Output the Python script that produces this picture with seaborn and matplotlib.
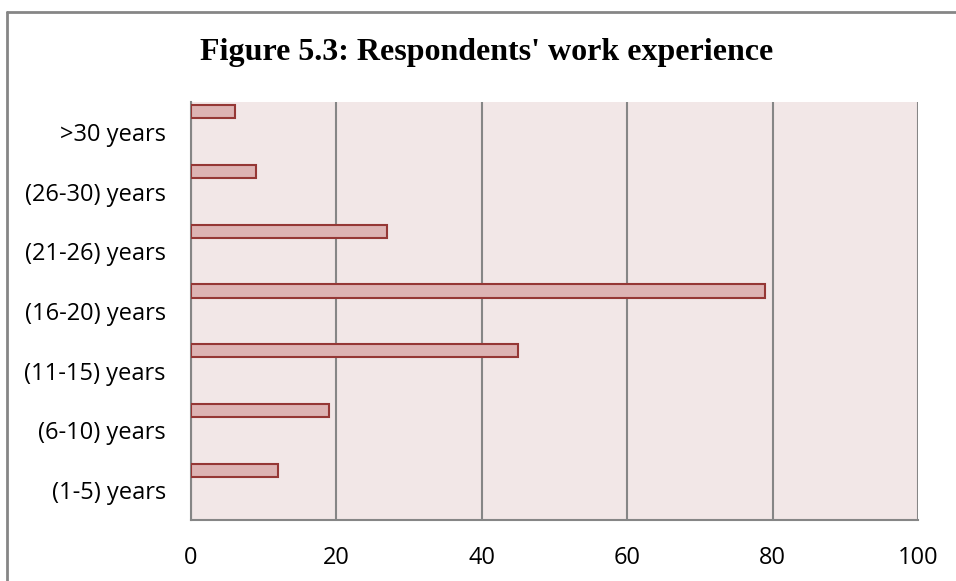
import pandas as pd
import numpy as np
import matplotlib.pyplot as plt
import seaborn as sns
from matplotlib.lines import Line2D

categories = [">30 years", "(26-30) years", "(21-26) years", "(16-20) years",
              "(11-15) years", "(6-10) years", "(1-5) years"]
respondents = [6, 9, 27, 79, 45, 19, 12]
x_ticks = [0, 20, 40, 60, 80, 100]


def main() -> None:
    df = pd.DataFrame({"experience": categories, "respondents": respondents})

    sns.set_style("white")
    plt.rcParams["font.family"] = ["Open Sans", "DejaVu Sans"]
    plt.rcParams["text.color"] = "black"
    plt.rcParams["xtick.color"] = "black"
    plt.rcParams["ytick.color"] = "black"

    fig = plt.figure(figsize=(9.56, 5.81), dpi=100)
    ax = fig.add_axes([191 / 956, 1 - 520 / 581, 727 / 956, 418 / 581])
    ax.set_facecolor("#F2E7E7")

    sns.barplot(data=df, x="respondents", y="experience", orient="h",
                width=0.22, color="#DDB3B3", saturation=1,
                edgecolor="#953735", linewidth=1.5, ax=ax, zorder=3)
    # Excel placed the single series at the top of each category band
    for patch in ax.patches:
        patch.set_y(patch.get_y() - 0.335)

    ax.set_xlim(0, 100)
    ax.set_ylim(6.5, -0.5)
    ax.set_xticks(x_ticks)
    ax.xaxis.grid(True, color="#868686", linewidth=1.5, zorder=1)
    ax.set_axisbelow(True)
    ax.tick_params(axis="x", length=0, pad=19, labelsize=17, labelcolor="black")
    ax.tick_params(axis="y", length=0, pad=18, labelsize=17, labelcolor="black")
    ax.set_xlabel("")
    ax.set_ylabel("")
    for side in ["top", "right"]:
        ax.spines[side].set_visible(False)
    for side in ["left", "bottom"]:
        ax.spines[side].set_color("#868686")
        ax.spines[side].set_linewidth(1.5)

    fig.text(487 / 956, 1 - 60 / 581, "Figure 5.3: Respondents' work experience",
             ha="center", va="baseline", fontsize=23, fontweight="bold",
             family="Liberation Serif", color="black")

    # chart frame (left and top edges visible)
    fig.add_artist(Line2D([7 / 956, 7 / 956], [0, 1 - 11.5 / 581],
                          transform=fig.transFigure, color="#868686", linewidth=2))
    fig.add_artist(Line2D([7 / 956, 1], [1 - 11.5 / 581, 1 - 11.5 / 581],
                          transform=fig.transFigure, color="#868686", linewidth=2))

    fig.savefig("out.png", dpi=100)


if __name__ == "__main__":
    main()
